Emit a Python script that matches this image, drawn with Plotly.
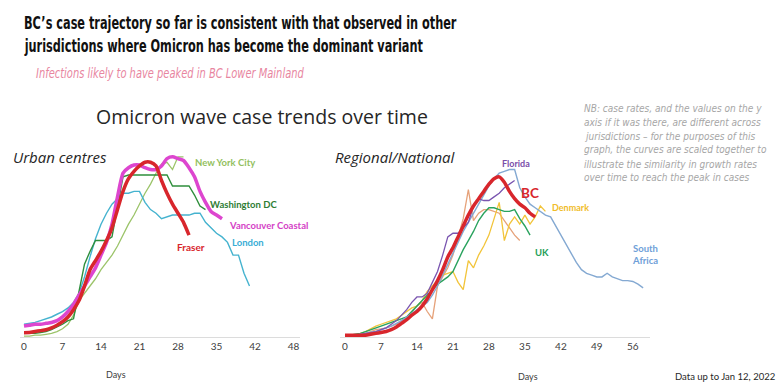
import json
import plotly.graph_objects as go

W, H = 780, 388

# ---------------- data (index = day) ----------------
nyc = [0.5, 0.5, 1, 1, 1.5, 2, 3, 4.5, 7, 12, 20, 24, 28, 32, 37, 41, 45, 50, 56, 62,
       67, 73, 79, 84, 90, 95, 96, 92, 99, 99]
london = [7, 7.5, 8, 9, 10, 11, 12.5, 14, 16, 19, 24, 33, 44, 54, 62, 68, 73, 76, 79, 79,
          80, 80, 74, 70, 68, 65, 66, 67, 67, 67, 67, 68, 68, 63, 60, 57, 55, 52, 45, 45,
          35, 28]
washington = [2, 2, 2, 2.5, 3, 4, 5.5, 7, 9, 10, 25, 40, 47, 53, 53, 53, 55, 72, 88, 89,
              89, 89, 89, 89, 89, 89, 89, 83, 83, 83, 83, 78, 72, 70]
vancouver = [6, 6.5, 7, 7, 7.5, 8, 9, 11, 14, 18, 23, 28, 33, 38, 45, 52, 62, 77, 90, 93,
             94.5, 94.5, 93, 92, 92, 94, 98, 99, 98, 97, 93, 88, 80, 74, 69, 67, 65]
fraser = [2.4, 2.5, 3, 3.5, 4, 5, 6.5, 8.4, 11, 15, 20, 28, 37, 42, 47, 53, 60, 70, 80, 87,
          91, 94, 96, 96, 94, 86, 79, 73, 68, 63, 56]

bc = [1, 1, 1, 1, 1, 1.5, 2, 2.5, 3, 4, 5.5, 7.5, 9.5, 12, 14, 17, 21, 26, 31, 37,
      44, 49, 55, 61, 67, 72, 76, 80, 84, 87, 88, 85, 80, 76, 73, 71, 68, 66]
florida = [1, 1, 1, 1.5, 2, 2.5, 3, 4, 5, 7, 9, 12, 15, 19, 22, 22, 24, 30, 36, 45,
           55, 57, 57, 60, 63, 72, 76, 75, 75, 77, 79, 82, 84, 86]
south_africa = [1, 1, 1, 1.5, 2, 2.5, 3, 4, 5, 6, 7.5, 9, 11, 13, 15, 17, 19, 23, 28, 34,
                40, 46, 52, 58, 63, 68, 73, 78, 83, 87, 90, 91, 92, 92, 82, 77, 73, 71, 69, 67,
                66, 61, 56, 51, 46, 41, 37, 35, 34, 33, 33, 35, 33, 32, 31, 31, 30.5, 29, 27]
uk = [1, 1, 1.5, 2, 3, 4, 5, 6, 7, 8, 9, 10, 11, 14, 17, 20, 23, 26, 29, 31,
      33, 36, 42, 48, 53, 58, 64, 68, 71, 71, 70, 69, 69, 70, 65, 61, 56]
denmark = [0.5, 0.5, 1, 2, 3, 4.5, 6, 7, 8, 9, 10, 12, 14, 16, 17, 20, 25, 28, 31, 34,
           35, 36, 30, 26, 42, 38, 45, 50, 56, 65, 74, 53, 62, 66, 62, 67, 62, 66, 72, 69]
other = [0.5, 1, 1, 1.5, 2, 3, 4, 4.5, 5, 6, 7, 9, 11, 14, 17, 19, 14, 10, 28, 33,
         38, 45, 55, 65, 81, 64, 68, 70, 70, 69, 68, 64, 60, 56, 53]

left_ticks = [0, 7, 14, 21, 28, 35, 42, 49]
left_ticktext = ["0", "7", "14", "21", "28", "35", "42", "48"]
right_ticks = [0, 7, 14, 21, 28, 35, 42, 49, 56]
right_ticktext = ["0", "7", "14", "21", "28", "35", "42", "49", "56"]

title_lines = ["BC’s case trajectory so far is consistent with that observed in other",
               "jurisdictions where Omicron has become the dominant variant"]
subtitle = "Infections likely to have peaked in BC Lower Mainland"
nb_lines = ["NB: case rates, and the values on the y",
            "axis if it was there, are different across",
            "jurisdictions – for the purposes of this",
            "graph, the curves are scaled together to",
            "illustrate the similarity in growth rates",
            "over time to reach the peak in cases"]

# ---------------- figure ----------------
fig = go.Figure()

def add(vals, color, width, axis, smooth=False):
    fig.add_trace(go.Scatter(
        x=list(range(len(vals))), y=vals, mode="lines",
        line=dict(color=color, width=width,
                  shape="spline" if smooth else "linear", smoothing=0.6),
        xaxis=axis[0], yaxis=axis[1], hoverinfo="skip", showlegend=False))

L = ("x", "y")
R = ("x2", "y2")
add(nyc, "#9cc46a", 1.3, L)
add(london, "#45b3cf", 1.4, L)
add(washington, "#2f8f3c", 1.4, L)
add(vancouver, "#dd46cf", 3.5, L, True)
add(fraser, "#d8262c", 3.5, L, True)

add(other, "#e6a27a", 1.3, R)
add(denmark, "#f2c43a", 1.3, R)
add(uk, "#2aa35e", 1.4, R)
add(south_africa, "#84a9d2", 1.4, R)
add(florida, "#7a55b0", 1.3, R)
add(bc, "#d8262c", 3.5, R, True)

def px(x):
    return x / W

def py(y):
    return 1 - y / H

ydom = [py(337), py(136.8)]
axis_common = dict(showgrid=False, zeroline=False, showline=True, linecolor="#dcdcdc",
                   linewidth=1, ticks="", tickfont=dict(family="Lato, Liberation Sans",
                                                        size=10, color="#404040"),
                   tickmode="array")
fig.update_layout(
    width=W, height=H, margin=dict(l=0, r=0, t=0, b=0),
    paper_bgcolor="white", plot_bgcolor="white",
    xaxis=dict(domain=[px(20), px(300)], range=[-4 / 5.5, 276 / 5.5],
               tickvals=left_ticks, ticktext=left_ticktext, anchor="y", **axis_common),
    yaxis=dict(domain=ydom, range=[0, 110], visible=False, anchor="x"),
    xaxis2=dict(domain=[px(340), px(650)], range=[-5 / 5.14, 305 / 5.14],
                tickvals=right_ticks, ticktext=right_ticktext, anchor="y2", **axis_common),
    yaxis2=dict(domain=ydom, range=[0, 110], visible=False, anchor="x2"),
)

anns = []
def txt(text, x, y, size, color, family="Open Sans", xanchor="left", bold=False,
        italic=False, align="left"):
    t = text
    if bold:
        t = "<b>" + t + "</b>"
    if italic:
        t = "<i>" + t + "</i>"
    anns.append(dict(text=t, x=px(x), y=py(y), xref="paper", yref="paper",
                     xanchor=xanchor, yanchor="middle", showarrow=False, align=align,
                     font=dict(size=size, color=color, family=family)))

COND = "DejaVu Sans Condensed, Roboto"
txt(title_lines[0], 22, 22, 18.5, "#111111", family=COND, bold=True)
txt(title_lines[1], 22, 45, 18.5, "#111111", family=COND, bold=True)
txt(subtitle, 34, 73, 14.5, "#e8869f", family=COND, italic=True)
txt("Omicron wave case trends over time", 94, 116, 19.5, "#262626", family="Open Sans")
for i, line in enumerate(nb_lines):
    txt(line, 582, 108 + i * 14, 10, "#a6a6a6", family=COND, italic=True)
txt("Urban centres", 11, 157, 15, "#262626", italic=True)
txt("Regional/National", 333, 157, 15, "#262626", italic=True)

LF = "Lato, Liberation Sans"
txt("New York City", 193, 162, 9.5, "#93bf5e", family=LF, bold=True)
txt("Washington DC", 208, 204, 9.5, "#2e7d34", family=LF, bold=True)
txt("Vancouver Coastal", 227, 225, 9.5, "#d43fc6", family=LF, bold=True)
txt("Fraser", 175, 247, 10, "#d8262c", family=LF, bold=True)
txt("London", 230, 242, 9.5, "#3aaed6", family=LF, bold=True)
txt("Florida", 500, 163, 9, "#7b4ea8", family=LF, bold=True)
txt("BC", 519, 193, 13.5, "#d8262c", family=LF, bold=True)
txt("Denmark", 550, 207, 9, "#f0bc2a", family=LF, bold=True)
txt("UK", 533, 252, 9.5, "#26a05a", family=LF, bold=True)
txt("South<br>Africa", 630, 254, 9.5, "#6f9fd8", family=LF, bold=True)

txt("Days", 116, 374, 9, "#404040", family=LF, xanchor="center")
txt("Days", 528, 376, 9, "#404040", family=LF, xanchor="center")
txt("Data up to Jan 12, 2022", 777, 376, 9.5, "#262626", family=LF, xanchor="right")

fig.update_layout(annotations=anns)

# horizontal squeeze for texts set in a condensed face in the original
squeeze = {title_lines[0]: 0.68, title_lines[1]: 0.68, subtitle: 0.76}
post = """
document.body.style.margin='0';
document.body.style.overflow='hidden';
var sq = %s;
document.querySelectorAll('text.annotation-text').forEach(function(t){
  var s = sq[t.textContent];
  if (s) {
    var b = t.getBBox();
    t.setAttribute('transform', 'translate(' + (b.x * (1 - s)) + ',0) scale(' + s + ',1)');
  }
});
""" % json.dumps(squeeze, ensure_ascii=False)

fig.write_html("out.html", config={"displayModeBar": False}, post_script=post)
